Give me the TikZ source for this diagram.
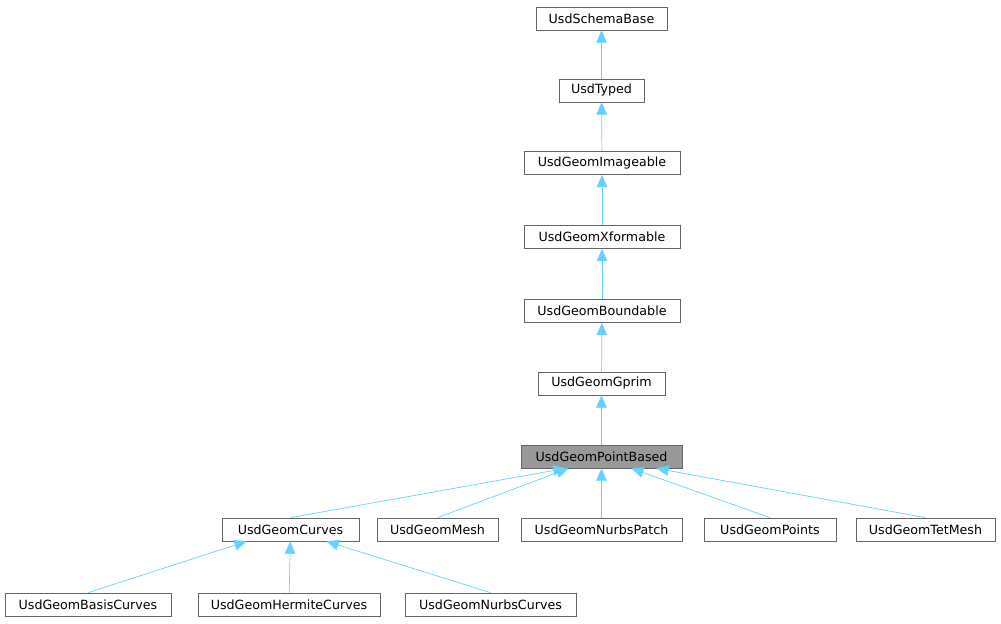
\documentclass[tikz,border=0pt]{standalone}
\usepackage{fontspec}
\setmainfont{DejaVu Sans}
\usetikzlibrary{arrows.meta}
\begin{document}
\begin{tikzpicture}[x=0.02cm,y=-0.02cm,
    cls/.style={draw=black!60,fill=white,inner sep=0pt,minimum height=23*0.02cm,font=\fontsize{7.2}{8}\selectfont},
    inh/.style={draw=blue!30!cyan!60,{Triangle[length=7pt,width=6pt]}-}]
    \useasboundingbox (0,0) rectangle (1001,623);
    % Klassen
    \node[cls,minimum width=131*0.02cm] (schema) at (601.5,18.5) {UsdSchemaBase};
    \node[cls,minimum width=85*0.02cm] (typed) at (601.5,90.5) {UsdTyped};
    \node[cls,minimum width=156*0.02cm] (imageable) at (602,163) {UsdGeomImageable};
    \node[cls,minimum width=156*0.02cm] (xformable) at (602,237) {UsdGeomXformable};
    \node[cls,minimum width=156*0.02cm] (boundable) at (602,311) {UsdGeomBoundable};
    \node[cls,minimum width=127*0.02cm] (gprim) at (601.5,383.5) {UsdGeomGprim};
    \node[cls,minimum width=161*0.02cm,fill=black!40] (pointbased) at (601.5,456.5) {UsdGeomPointBased};
    \node[cls,minimum width=137*0.02cm] (curves) at (290.5,529.5) {UsdGeomCurves};
    \node[cls,minimum width=121*0.02cm] (mesh) at (437.5,529.5) {UsdGeomMesh};
    \node[cls,minimum width=161*0.02cm] (nurbspatch) at (601.5,529.5) {UsdGeomNurbsPatch};
    \node[cls,minimum width=132*0.02cm] (points) at (770,529.5) {UsdGeomPoints};
    \node[cls,minimum width=139*0.02cm] (tetmesh) at (925.5,529.5) {UsdGeomTetMesh};
    \node[cls,minimum width=166*0.02cm] (basis) at (88,604.5) {UsdGeomBasisCurves};
    \node[cls,minimum width=182*0.02cm] (hermite) at (289,604.5) {UsdGeomHermiteCurves};
    \node[cls,minimum width=171*0.02cm] (nurbscurves) at (490.5,604.5) {UsdGeomNurbsCurves};
    % Vererbung
    \draw[inh] (schema) -- (typed);
    \draw[inh] (typed) -- (imageable);
    \draw[inh] (imageable) -- (xformable);
    \draw[inh] (xformable) -- (boundable);
    \draw[inh] (boundable) -- (gprim);
    \draw[inh] (gprim) -- (pointbased);
    \draw[inh] (pointbased.south west) ++(45,0) coordinate (pb1) (pb1) -- (curves.north);
    \draw[inh] (pointbased.south west) ++(48,0) coordinate (pb2) (pb2) -- (mesh.north);
    \draw[inh] (pointbased) -- (nurbspatch);
    \draw[inh] (pointbased.south east) ++(-51,0) coordinate (pb3) (pb3) -- (points.north);
    \draw[inh] (pointbased.south east) ++(-26,0) coordinate (pb4) (pb4) -- (tetmesh.north);
    \draw[inh] (curves.south west) ++(25,0) coordinate (cv1) (cv1) -- (basis.north);
    \draw[inh] (curves) -- (hermite);
    \draw[inh] (curves.south east) ++(-33,0) coordinate (cv2) (cv2) -- (nurbscurves.north);
\end{tikzpicture}
\end{document}
